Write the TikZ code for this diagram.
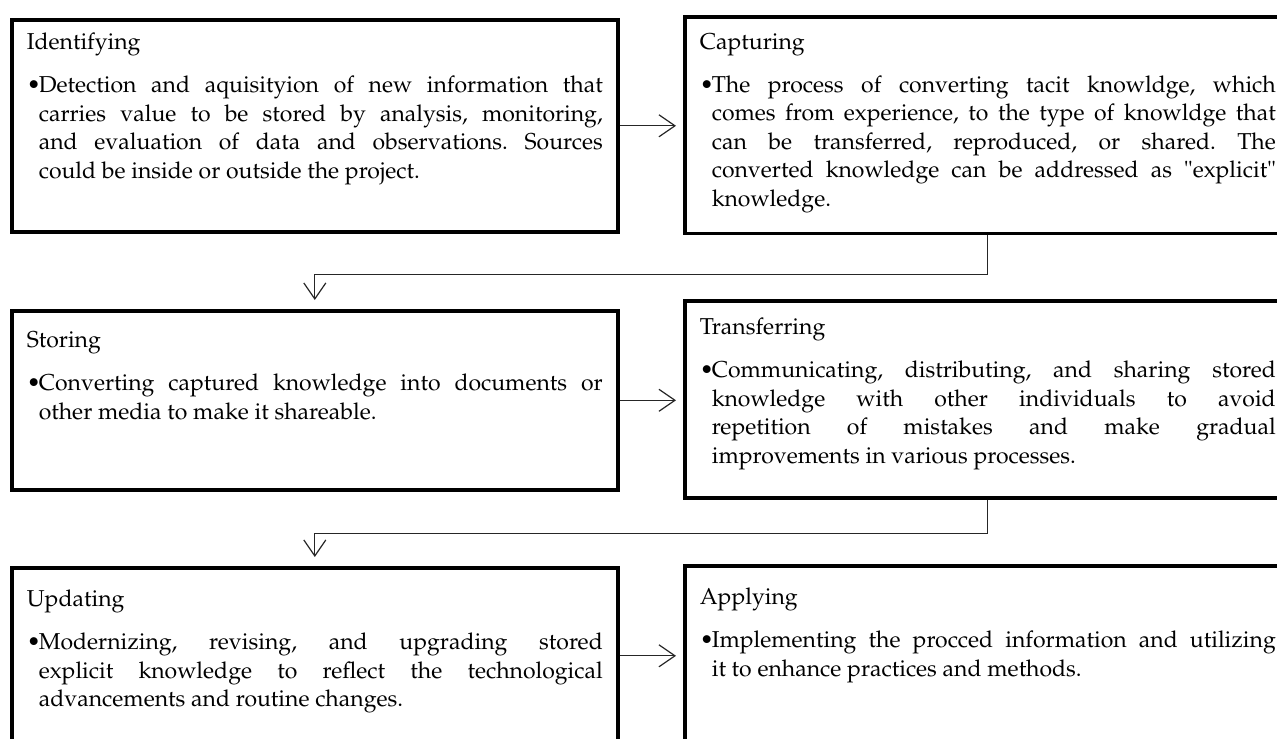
\documentclass[tikz,border=0pt]{standalone}
\usepackage[T1]{fontenc}
\usepackage{mathpazo}
\usepackage{tikz}
\usetikzlibrary{positioning, arrows.meta}
\frenchspacing

% bullet paragraph, hanging under the title
\newcommand{\stageitem}[1]{\par\vspace{7.25pt}\noindent
  \makebox[6pt][l]{\textbullet}\parbox[t]{282pt}{#1}}

\begin{document}
\begin{tikzpicture}[x=0.5pt, y=-0.5pt,
  stage/.style={draw, line width=1.8pt, fill=white, anchor=north west,
    text width=288pt, inner xsep=7.5pt, inner ysep=0pt, align=justify,
    text height=16pt, font=\fontsize{11.5}{14.25}\selectfont},
  link/.style={draw=black!85, line width=0.6pt,
    -{Straight Barb[length=8pt, width=11pt]}}]

  \useasboundingbox (0,0) rectangle (1277,738);
  \clip (0,0) rectangle (1277,738);

  % first row
  \node[stage, text height=15pt, text depth=91pt] (ident) at (10,18) {Identifying
    \stageitem{Detection and aquisityion of new information that\linebreak
    carries value to be stored by analysis, monitoring,\linebreak
    and evaluation of data and observations. Sources\linebreak
    could be inside or outside the project.}};
  \node[stage, text depth=92pt] (captur) at (683,15.5) {Capturing
    \stageitem{The process of converting tacit knowldge, which\linebreak
    comes from experience, to the type of knowldge that\linebreak
    can be transferred, reproduced, or shared. The\linebreak
    converted knowledge can be addressed as \textquotedbl explicit\textquotedbl\linebreak
    knowledge.}};

  % second row
  \node[stage, text height=18.5pt, text depth=71pt] (store) at (10,309) {Storing
    \stageitem{Converting captured knowledge into documents or\linebreak
    other media to make it shareable.}};
  \node[stage, text height=17pt, text depth=81.5pt] (transf) at (683,299) {Transferring
    \stageitem{Communicating, distributing, and sharing stored\linebreak
    knowledge with other individuals to avoid\linebreak
    repetition of mistakes and make gradual\linebreak
    improvements in various processes.}};

  % third row
  \node[stage, text height=19.5pt, text depth=68.5pt] (update) at (10,566) {Updating
    \stageitem{Modernizing, revising, and upgrading stored\linebreak
    explicit knowledge to reflect the technological\linebreak
    advancements and routine changes.}};
  \node[stage, text height=19.5pt, text depth=70.5pt] (apply) at (683,564) {Applying
    \stageitem{Implementing the procced information and utilizing\linebreak
    it to enhance practices and methods.}};

  % arrows within each row
  \draw[link, shorten >=3.5pt] (ident.east) -- (ident.east -| captur.west);
  \draw[link, shorten >=3.5pt] (store.east) -- (store.east -| transf.west);
  \draw[link, shorten >=3.5pt] (update.east) -- (update.east -| apply.west);

  % elbows down to the next row
  \draw[link, shorten >=4.5pt] (captur.south) -- ++(0,39) -| (store.north);
  \draw[link, shorten >=4.5pt] (transf.south) -- ++(0,34) -| (update.north);
\end{tikzpicture}
\end{document}
